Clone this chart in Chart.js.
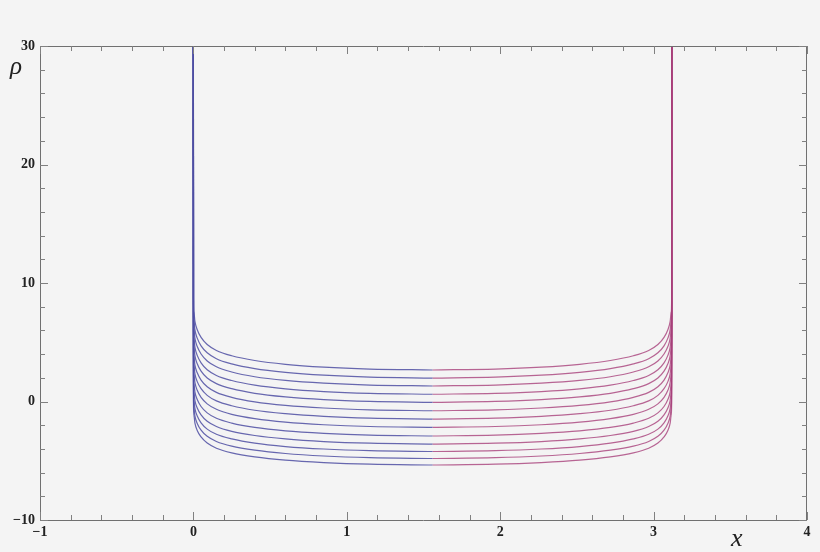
<!DOCTYPE html>
<html>
<head>
<meta charset="utf-8">
<script src="https://cdn.jsdelivr.net/npm/chart.js@4.4.0/dist/chart.umd.min.js"></script>
<style>
  html, body { margin: 0; padding: 0; background: #f4f4f4; }
</style>
</head>
<body>
<canvas id="grafico" width="820" height="552"></canvas>
<script>
// x positions (left half, then right half going up to the second wall)
const xLeft = [0, 0.0005, 0.003, 0.01, 0.025, 0.05, 0.09, 0.15, 0.25, 0.4, 0.6, 0.85, 1.15, 1.559];
const xRight = [1.559, 1.968, 2.268, 2.518, 2.718, 2.868, 2.968, 3.028, 3.068, 3.093, 3.108, 3.115, 3.1175, 3.118];

// rho values, one list per curve (top to bottom), at xLeft
const curve1 = [30, 8.66, 7.56, 6.76, 6.06, 5.41, 4.81, 4.31, 3.86, 3.46, 3.14, 2.90, 2.74, 2.66];
const curve2 = [30, 7.92, 6.83, 6.04, 5.35, 4.70, 4.11, 3.61, 3.17, 2.77, 2.46, 2.22, 2.06, 1.98];
const curve3 = [30, 7.19, 6.11, 5.33, 4.64, 4.01, 3.42, 2.93, 2.49, 2.09, 1.78, 1.55, 1.39, 1.31];
const curve4 = [30, 6.40, 5.34, 4.57, 3.89, 3.26, 2.68, 2.20, 1.77, 1.38, 1.07, 0.84, 0.69, 0.61];
const curve5 = [30, 5.66, 4.61, 3.85, 3.18, 2.56, 1.98, 1.51, 1.08, 0.69, 0.39, 0.16, 0.01, -0.07];
const curve6 = [30, 4.86, 3.83, 3.07, 2.42, 1.81, 1.24, 0.77, 0.35, -0.03, -0.33, -0.55, -0.70, -0.78];
const curve7 = [30, 4.10, 3.08, 2.33, 1.68, 1.08, 0.52, 0.05, -0.36, -0.74, -1.03, -1.26, -1.41, -1.48];
const curve8 = [30, 3.34, 2.33, 1.59, 0.95, 0.35, -0.20, -0.66, -1.08, -1.44, -1.74, -1.96, -2.11, -2.18];
const curve9 = [30, 2.52, 1.52, 0.80, 0.17, -0.42, -0.96, -1.42, -1.82, -2.19, -2.48, -2.69, -2.84, -2.91];
const curve10 = [30, 1.78, 0.80, 0.08, -0.55, -1.13, -1.67, -2.11, -2.52, -2.87, -3.16, -3.38, -3.52, -3.59];
const curve11 = [30, 1.06, 0.09, -0.61, -1.23, -1.80, -2.33, -2.77, -3.16, -3.52, -3.80, -4.01, -4.15, -4.22];
const curve12 = [30, 0.41, -0.55, -1.24, -1.85, -2.42, -2.94, -3.37, -3.77, -4.11, -4.39, -4.60, -4.74, -4.81];
const curve13 = [30, -0.20, -1.15, -1.83, -2.44, -2.99, -3.51, -3.94, -4.33, -4.67, -4.95, -5.15, -5.29, -5.36];

const curves = [curve1, curve2, curve3, curve4, curve5, curve6, curve7, curve8, curve9, curve10, curve11, curve12, curve13];

// tick labels
const xTicks = [-1, 0, 1, 2, 3, 4];
const yTicks = [-10, 0, 10, 20, 30];

const AZUL = "rgba(78, 78, 162, 0.85)";
const ROSA = "rgba(168, 64, 122, 0.8)";

function montarDatasets() {
  const ds = [];
  curves.forEach((c) => {
    // left half, blue
    ds.push({
      data: xLeft.map((x, i) => ({ x: x, y: c[i] })),
      borderColor: AZUL,
    });
    // right half, pink (the picture is mirror-symmetric, same values read backwards)
    const inv = c.slice().reverse();
    ds.push({
      data: xRight.map((x, i) => ({ x: x, y: inv[i] })),
      borderColor: ROSA,
    });
  });
  return ds.map((d) => ({
    ...d,
    borderWidth: 1.2,
    pointRadius: 0,
    fill: false,
    cubicInterpolationMode: "monotone",
  }));
}

function menos(v) {
  return v < 0 ? "\u2212" + Math.abs(v) : String(v);
}

// frame with inward ticks on all four sides, plus the axis titles
const moldura = {
  id: "moldura",
  afterDatasetsDraw(chart) {
    const { ctx, chartArea: a, scales } = chart;
    const sx = scales.x;
    const sy = scales.y;
    ctx.save();
    ctx.strokeStyle = "#707070";
    ctx.lineWidth = 1;
    ctx.beginPath();
    ctx.rect(Math.round(a.left) + 0.5, Math.round(a.top) + 0.5,
      Math.round(a.right - a.left) - 1, Math.round(a.bottom - a.top));
    ctx.stroke();

    ctx.strokeStyle = "#808080";
    ctx.beginPath();
    for (let k = 0; k <= 25; k++) {
      const v = -1 + k * 0.2;
      const px = Math.round(sx.getPixelForValue(v)) + 0.5;
      const len = k % 5 === 0 ? 8 : 5;
      ctx.moveTo(px, a.bottom);
      ctx.lineTo(px, a.bottom - len);
      ctx.moveTo(px, a.top);
      ctx.lineTo(px, a.top + len);
    }
    for (let k = 0; k <= 20; k++) {
      const v = -10 + k * 2;
      const py = Math.round(sy.getPixelForValue(v)) + 0.5;
      const len = k % 5 === 0 ? 8 : 5;
      ctx.moveTo(a.left, py);
      ctx.lineTo(a.left + len, py);
      ctx.moveTo(a.right, py);
      ctx.lineTo(a.right - len, py);
    }
    ctx.stroke();

    ctx.fillStyle = "#222";
    ctx.font = "italic 25px 'Liberation Serif'";
    ctx.textAlign = "left";
    ctx.textBaseline = "alphabetic";
    ctx.fillText("\u03c1", 10, 74);
    ctx.font = "italic 26px 'Liberation Serif'";
    ctx.fillText("x", 731, 546);
    ctx.restore();
  },
};

const fonteTicks = { family: "'Liberation Serif'", size: 14, weight: "bold" };

new Chart(document.getElementById("grafico"), {
  type: "line",
  data: { datasets: montarDatasets() },
  options: {
    responsive: false,
    animation: false,
    layout: { padding: { top: 46, right: 13, left: 0, bottom: 0 } },
    plugins: { legend: { display: false }, tooltip: { enabled: false } },
    scales: {
      x: {
        type: "linear",
        min: -1,
        max: 4,
        afterBuildTicks: (s) => { s.ticks = xTicks.map((v) => ({ value: v })); },
        afterFit: (s) => { s.height = 32; },
        grid: { display: false, drawTicks: false },
        border: { display: false },
        ticks: { color: "#222", font: fonteTicks, padding: 4, callback: menos, maxRotation: 0 },
      },
      y: {
        type: "linear",
        min: -10,
        max: 30,
        afterBuildTicks: (s) => { s.ticks = yTicks.map((v) => ({ value: v })); },
        afterFit: (s) => { s.width = 40; },
        grid: { display: false, drawTicks: false },
        border: { display: false },
        ticks: { color: "#222", font: fonteTicks, padding: 5, callback: menos },
      },
    },
  },
  plugins: [moldura],
});
</script>
</body>
</html>
